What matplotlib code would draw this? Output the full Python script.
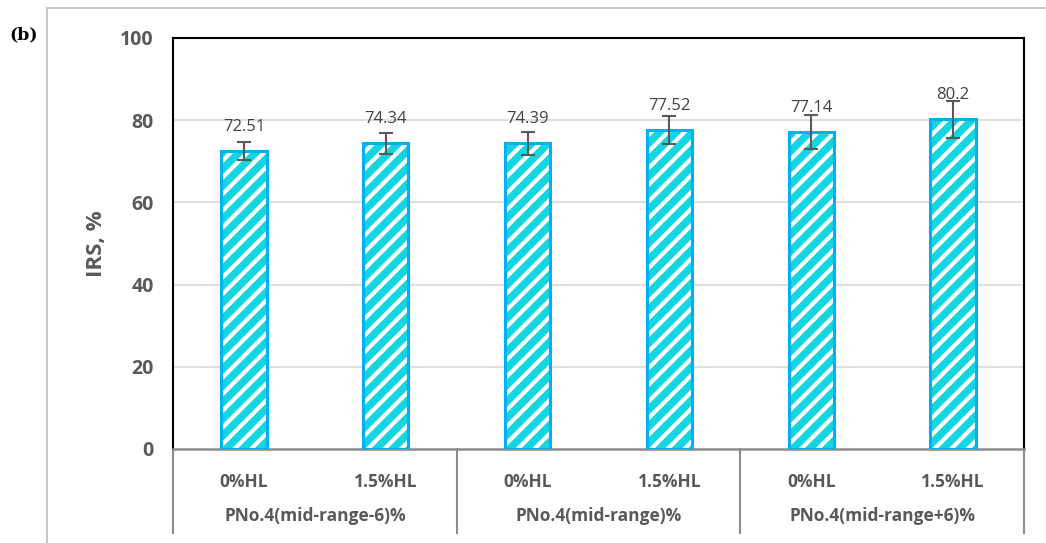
import matplotlib.pyplot as plt
import matplotlib.lines as mlines

# IRS results for each mix
groups = ["PNo.4(mid-range-6)%", "PNo.4(mid-range)%", "PNo.4(mid-range+6)%"]
levels = ["0%HL", "1.5%HL"]
irs = [72.51, 74.34, 74.39, 77.52, 77.14, 80.2]
irs_err = [2.1, 2.5, 2.8, 3.4, 4.2, 4.5]

fill = "#13D6E0"
edge = "#00B0F0"
grey = "#595959"

plt.rcParams['font.family'] = ['Open Sans', 'DejaVu Sans']
plt.rcParams['hatch.linewidth'] = 3.0

W, H = 1046, 543
fig = plt.figure(figsize=(W / 100, H / 100), dpi=100)

# outer frame (left and top only)
fig.add_artist(mlines.Line2D([47 / W, 47 / W], [0, 1 - 8 / H], color="#BFBFBF", lw=1.2))
fig.add_artist(mlines.Line2D([47 / W, 1], [1 - 8 / H, 1 - 8 / H], color="#BFBFBF", lw=1.2))
fig.text(9 / W, 1 - 35 / H, "(b)", family="DejaVu Serif", fontweight="bold",
         fontsize=12.5, va="center", ha="left", color="black")

left, right, top, bottom = 173, 1024, 38, 449
ax = fig.add_axes([left / W, 1 - bottom / H, (right - left) / W, (bottom - top) / H])

x = list(range(len(irs)))
# hatched fill (white stripes) then the blue outline on top
ax.bar(x, irs, width=0.32, color=fill, edgecolor="white", hatch="//", linewidth=0, zorder=2)
ax.bar(x, irs, width=0.32, color="none", edgecolor=edge, linewidth=2.2, zorder=3)
ax.errorbar(x, irs, yerr=irs_err, fmt="none", ecolor=grey, elinewidth=1.5,
            capsize=5, capthick=1.5, zorder=4)

for xi, v in zip(x, irs):
    ax.annotate(f"{v:g}", (xi, v), xytext=(0, 17.5), textcoords="offset points",
                ha="center", va="center", fontsize=12, color="#404040", zorder=5)

ax.set_xlim(-0.5, len(irs) - 0.5)
ax.set_ylim(0, 100)
ax.set_yticks([0, 20, 40, 60, 80, 100])
ax.tick_params(axis="y", length=0, pad=14, labelsize=14, labelcolor=grey)
for lab in ax.get_yticklabels():
    lab.set_fontweight("bold")
ax.set_ylabel("IRS, %", fontsize=16, fontweight="bold", color=grey, labelpad=9)

for g in [20, 40, 60, 80]:
    ax.axhline(g, color="#D9D9D9", lw=1.2, zorder=0)

for side in ["left", "top", "right"]:
    ax.spines[side].set_color("black")
    ax.spines[side].set_linewidth(1.5)
ax.spines["bottom"].set_color("#8C8C8C")
ax.spines["bottom"].set_linewidth(1.8)

# two-level category axis
ax.set_xticks(x)
ax.set_xticklabels(levels * len(groups), fontsize=12.5, fontweight="bold", color=grey)
ax.tick_params(axis="x", length=0, pad=17)

ah = bottom - top
for i, name in enumerate(groups):
    ax.text(2 * i + 0.5, -67 / ah, name, transform=ax.get_xaxis_transform(),
            ha="center", va="center", fontsize=12.5, fontweight="bold", color=grey)
for b in [-0.5, 1.5, 3.5, 5.5]:
    ax.add_artist(mlines.Line2D([b, b], [0, -84 / ah], transform=ax.get_xaxis_transform(),
                                color="#8C8C8C", lw=1.5, clip_on=False))

fig.savefig("out.png", dpi=100)
